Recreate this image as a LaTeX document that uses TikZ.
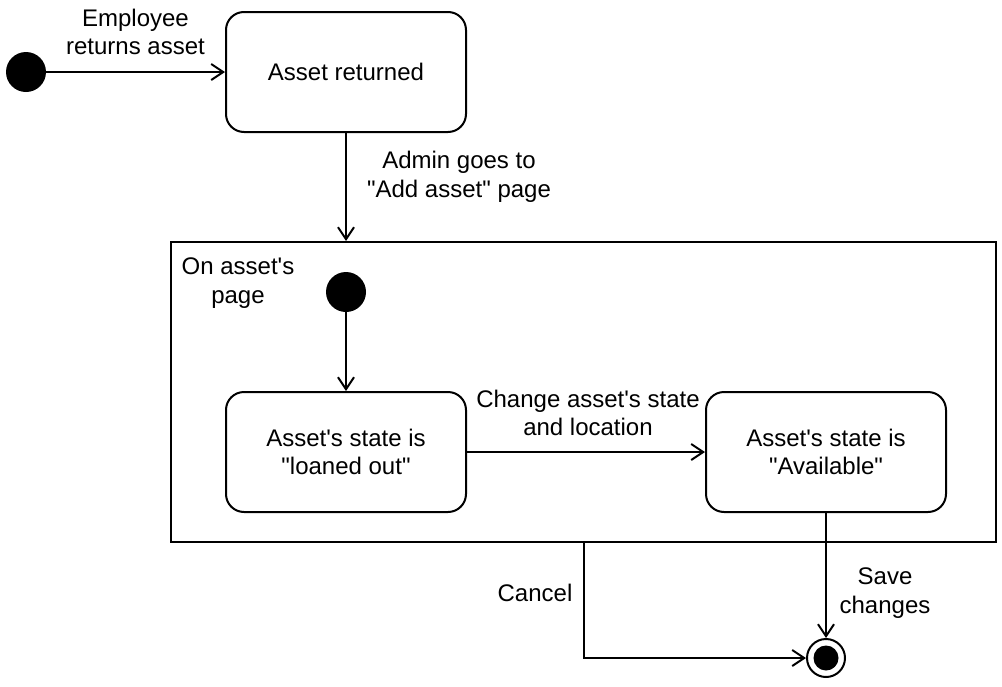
\documentclass[tikz,border=0pt]{standalone}
\usepackage{fontspec}
\setmainfont{Liberation Sans}
\usetikzlibrary{arrows.meta}
\begin{document}
\begin{tikzpicture}[x=0.5pt,y=-0.5pt,
  every node/.style={font=\fontsize{12}{14.4}\selectfont},
  lbl/.style={align=center,inner sep=0pt},
  initst/.style={circle,fill=black,draw=none,minimum size=20pt,inner sep=0pt},
  statebox/.style={draw,line width=1pt,rounded corners=9pt,minimum width=120pt,minimum height=60pt,align=center},
  finalout/.style={circle,draw,line width=1pt,minimum size=19pt,inner sep=0pt},
  finalin/.style={circle,fill=black,minimum size=12.5pt,inner sep=0pt},
  conn/.style={line width=1pt,-{Straight Barb[length=6pt,width=8pt,line width=1pt]}},
  plain/.style={line width=1pt}]
\useasboundingbox (0,0) rectangle (1002,686);
% composite state
\node[draw,line width=1pt,minimum width=412.5pt,minimum height=150pt,inner sep=0pt] (comp) at (583.5,392) {};
\node[lbl] (complbl) at (238,283) {On asset\textquotesingle s\\page};
% top
\node[initst] (init1) at (26,72) {};
\node[statebox] (ret) at (346,72) {Asset returned};
\node[lbl] (l1) at (135.5,32) {Employee\\returns asset};
\draw[conn] (init1) -- (ret);
\node[lbl] (l2) at (459,177) {Admin goes to\\\textquotedbl Add asset\textquotedbl{} page};
\draw[conn] (ret.south) -- (ret.south |- comp.north);
% inner
\node[initst] (init2) at (346,292) {};
\node[statebox] (loan) at (346,452) {Asset\textquotesingle s state is\\\textquotedbl loaned out\textquotedbl};
\node[statebox] (avail) at (826,452) {Asset\textquotesingle s state is\\\textquotedbl Available\textquotedbl};
\draw[conn] (init2) -- (loan.north);
\draw[conn] (loan) -- (avail);
\node[lbl] (l3) at (588,413) {Change asset\textquotesingle s state\\and location};
% final
\node[finalout] (final) at (826,658) {};
\node[finalin] (finaldot) at (826,658) {};
\draw[conn] (avail.south) -- (final.north);
\node[lbl] (l4) at (885,593) {Save\\changes};
\coordinate (cstart) at (584,542);
\draw[conn] (cstart) |- (final.west);
\node[lbl] (l5) at (535,593) {Cancel};
\end{tikzpicture}
\end{document}
